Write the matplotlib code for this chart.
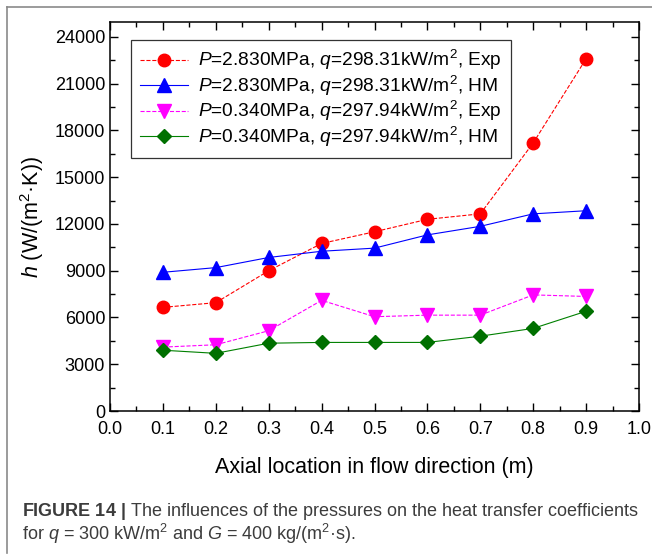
import matplotlib
matplotlib.use('Agg')
import matplotlib.pyplot as plt
from matplotlib.lines import Line2D
from matplotlib.ticker import MultipleLocator

plt.rcParams['font.family'] = ['Liberation Sans', 'DejaVu Sans']
plt.rcParams['mathtext.fontset'] = 'custom'
plt.rcParams['mathtext.rm'] = 'Liberation Sans'
plt.rcParams['mathtext.it'] = 'Liberation Sans:italic'
plt.rcParams['mathtext.bf'] = 'Liberation Sans:bold'

# positions axiales (m)
x_pos = [0.1, 0.2, 0.3, 0.4, 0.5, 0.6, 0.7, 0.8, 0.9]

# coefficients d'échange h (W/(m2.K))
h_exp_283 = [6650, 6950, 9000, 10750, 11500, 12300, 12650, 17200, 22600]
h_hm_283 = [8900, 9200, 9850, 10250, 10450, 11300, 11850, 12650, 12850]
h_exp_034 = [4100, 4250, 5150, 7100, 6050, 6150, 6150, 7450, 7350]
h_hm_034 = [3900, 3700, 4350, 4400, 4400, 4400, 4800, 5300, 6400]

labels = [r'$P$=2.830MPa, $q$=298.31kW/m$^2$, Exp',
          r'$P$=2.830MPa, $q$=298.31kW/m$^2$, HM',
          r'$P$=0.340MPa, $q$=297.94kW/m$^2$, Exp',
          r'$P$=0.340MPa, $q$=297.94kW/m$^2$, HM']

fig = plt.figure(figsize=(6.52, 5.59), dpi=100)
ax = fig.add_axes([110 / 652, 1 - 411 / 559, 529 / 652, 389 / 559])

ax.plot(x_pos, h_exp_283, ls='--', lw=0.8, color='#FF0000', marker='o',
        ms=9, mfc='#FF0000', mec='#FF0000', label=labels[0])
ax.plot(x_pos, h_hm_283, ls='-', lw=0.8, color='#0000FF', marker='^',
        ms=9.5, mfc='#0000FF', mec='#0000FF', label=labels[1])
ax.plot(x_pos, h_exp_034, ls='--', lw=0.8, color='#FF00FF', marker='v',
        ms=9.5, mfc='#FF00FF', mec='#FF00FF', label=labels[2])
ax.plot(x_pos, h_hm_034, ls='-', lw=0.8, color='#008000', marker='D',
        ms=7.5, mfc='#007000', mec='#007000', label=labels[3])

ax.set_xlim(0, 1.0)
ax.set_ylim(0, 24960)
ax.xaxis.set_major_locator(MultipleLocator(0.1))
ax.xaxis.set_minor_locator(MultipleLocator(0.05))
ax.yaxis.set_major_locator(MultipleLocator(3000))
ax.yaxis.set_minor_locator(MultipleLocator(1500))
ax.xaxis.set_major_formatter(matplotlib.ticker.FormatStrFormatter('%.1f'))
ax.tick_params(which='both', direction='in', top=True, right=True,
               labelsize=13, width=1.0)
ax.tick_params(which='major', length=6)
ax.tick_params(which='minor', length=3.5)
ax.tick_params(axis='x', pad=7)
for sp in ax.spines.values():
    sp.set_linewidth(1.1)

ax.set_xlabel('Axial location in flow direction (m)', fontsize=15.5, labelpad=14)
ax.set_ylabel(r'$h$ (W/(m$^2$·K))', fontsize=15.5, labelpad=6)

leg = ax.legend(loc='upper left', bbox_to_anchor=(0.04, 0.955), fontsize=13.8,
                frameon=True, fancybox=False, edgecolor='black',
                handlelength=2.5, borderpad=0.45, labelspacing=0.08,
                handletextpad=0.55, borderaxespad=0)
leg.get_frame().set_linewidth(0.9)

# cadre gris de la figure
fig.add_artist(Line2D([7 / 652, 7 / 652], [1 - 553 / 559, 1 - 7 / 559],
                      transform=fig.transFigure, color='#8a8a8a', lw=1.2))
fig.add_artist(Line2D([7 / 652, 1.0], [1 - 7 / 559, 1 - 7 / 559],
                      transform=fig.transFigure, color='#8a8a8a', lw=1.2))

# légende de la figure
fig.text(22 / 652, 1 - 512 / 559,
         r'$\mathbf{FIGURE\ 14\ |}$ The influences of the pressures on the heat transfer coefficients',
         fontsize=12.95, color='#3c3c3c', va='center', ha='left')
fig.text(22 / 652, 1 - 534 / 559,
         r'for $q$ = 300 kW/m$^2$ and $G$ = 400 kg/(m$^2$·s).',
         fontsize=12.95, color='#3c3c3c', va='center', ha='left')

fig.savefig('out.png', dpi=100)
